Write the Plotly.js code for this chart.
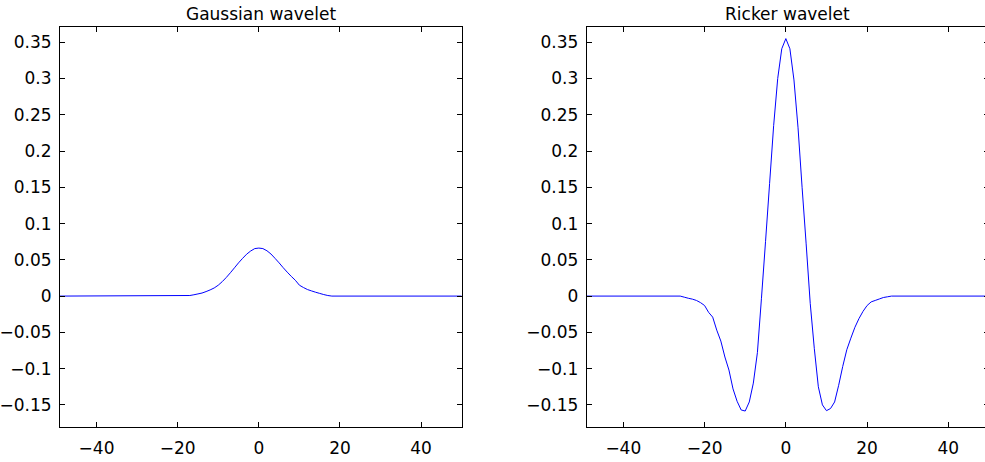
<!DOCTYPE html>
<html>
<head>
<meta charset="utf-8">
<script src="https://cdn.plot.ly/plotly-3.0.1.min.js"></script>
<style>
  html, body { margin: 0; padding: 0; overflow: hidden; background: #ffffff; }
  #chart { width: 989px; height: 462px; }
</style>
</head>
<body>
<div id="chart"></div>
<script>
// Gaussian wavelet samples (flat tails given by their end points)
const gaussX = [-49, -17, -16, -15, -14, -13, -12, -11, -10, -9, -8, -7, -6, -5, -4, -3, -2, -1, 0,
                1, 2, 3, 4, 5, 6, 7, 8, 9, 10, 11, 12, 13, 14, 15, 16, 17, 18, 50];
const gaussY = [0, 0.0008, 0.0018, 0.0030, 0.0042, 0.0062, 0.0085, 0.0112, 0.0150, 0.0200, 0.0258, 0.0322, 0.0390, 0.0458, 0.0520, 0.0578, 0.0622, 0.0655, 0.0662,
                0.0655, 0.0625, 0.0580, 0.0520, 0.0458, 0.0392, 0.0330, 0.0272, 0.0218, 0.0150, 0.0118, 0.0090, 0.0071, 0.0053, 0.0037, 0.0021, 0.0008, 0, 0];

// Ricker wavelet samples
const rickerX = [-49, -26, -25, -24, -23, -22, -21, -20, -19, -18, -17, -16, -15, -14, -13, -12, -11, -10, -9, -8, -7, -6, -5, -4, -3, -2, -1, 0,
                 1, 2, 3, 4, 5, 6, 7, 8, 9, 10, 11, 12, 13, 14, 15, 16, 17, 18, 19, 20, 21, 22, 23, 24, 25, 26, 50];
const rickerY = [0, 0, -0.0015, -0.0030, -0.0042, -0.0060, -0.0090, -0.0130, -0.0225, -0.0290, -0.0470, -0.0620, -0.0840, -0.1020, -0.1280, -0.1450, -0.1570, -0.1585, -0.1460, -0.1200, -0.0780, -0.0030, 0.0750, 0.1550, 0.2350, 0.3000, 0.3410, 0.3550,
                 0.3410, 0.2980, 0.2320, 0.1500, 0.0720, -0.0100, -0.0720, -0.1250, -0.1500, -0.1580, -0.1550, -0.1460, -0.1230, -0.0970, -0.0740, -0.0580, -0.0430, -0.0310, -0.0210, -0.0130, -0.0080, -0.0060, -0.0040, -0.0020, -0.0010, 0, 0];

// Axis ticks
const xTickVals = [-40, -20, 0, 20, 40];
const xTickText = ['\u221240', '\u221220', '0', '20', '40'];
const yTickVals = [-0.15, -0.1, -0.05, 0, 0.05, 0.1, 0.15, 0.2, 0.25, 0.3, 0.35];
const yTickText = ['\u22120.15', '\u22120.1', '\u22120.05', '0', '0.05', '0.1', '0.15', '0.2', '0.25', '0.3', '0.35'];

const panelTitles = ['Gaussian wavelet', 'Ricker wavelet'];

const FONT = { family: 'DejaVu Sans, sans-serif', size: 17, color: '#000000' };
const LINE_COLOR = '#0000ff';

const traces = [
  { x: gaussX, y: gaussY, type: 'scatter', mode: 'lines',
    line: { color: LINE_COLOR, width: 1, simplify: false }, xaxis: 'x', yaxis: 'y', hoverinfo: 'skip' },
  { x: rickerX, y: rickerY, type: 'scatter', mode: 'lines',
    line: { color: LINE_COLOR, width: 1, simplify: false }, xaxis: 'x2', yaxis: 'y2', hoverinfo: 'skip' }
];

function xAxis(domain, anchor) {
  return {
    domain: domain, anchor: anchor, range: [-49, 50],
    tickmode: 'array', tickvals: xTickVals, ticktext: xTickText,
    ticks: 'inside', ticklen: 5, tickwidth: 1, tickcolor: '#000000',
    showline: true, linecolor: '#000000', linewidth: 1, mirror: 'ticks',
    showgrid: false, zeroline: false, tickfont: FONT, ticklabelstandoff: 6
  };
}
function yAxis(anchor) {
  return {
    anchor: anchor, range: [-0.1805, 0.371],
    tickmode: 'array', tickvals: yTickVals, ticktext: yTickText,
    ticks: 'inside', ticklen: 5, tickwidth: 1, tickcolor: '#000000',
    showline: true, linecolor: '#000000', linewidth: 1, mirror: 'ticks',
    showgrid: false, zeroline: false, tickfont: FONT, ticklabelstandoff: 4
  };
}

const layout = {
  width: 989, height: 462,
  margin: { l: 60, r: 0, t: 27, b: 35 },
  paper_bgcolor: '#ffffff', plot_bgcolor: '#ffffff',
  showlegend: false,
  font: FONT,
  xaxis: xAxis([0, 0.4324], 'y'),
  yaxis: yAxis('x'),
  xaxis2: xAxis([0.567, 1], 'y2'),
  yaxis2: yAxis('x2'),
  annotations: panelTitles.map((t, i) => ({
    text: t, showarrow: false,
    xref: (i === 0 ? 'x' : 'x2') + ' domain', x: 0.5, xanchor: 'center',
    yref: 'paper', y: 1, yanchor: 'bottom', yshift: 1,
    font: FONT
  }))
};

Plotly.newPlot('chart', traces, layout, { staticPlot: true, displayModeBar: false });
</script>
</body>
</html>
